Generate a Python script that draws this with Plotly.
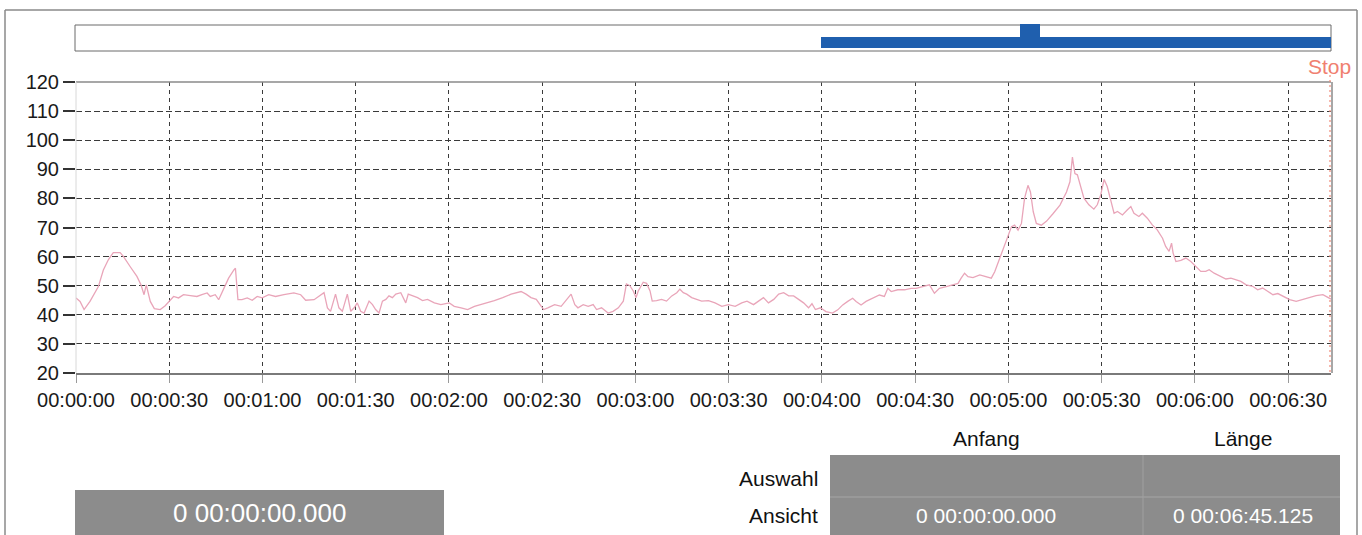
import plotly.graph_objects as go

# ---- recorded series (seconds from start, value) ----
seconds = [
    0, 1.3, 2.6, 4.5, 7.2, 8.8, 10.4, 12.0, 14.2, 15.3, 17.4, 19.6, 20.9, 21.9, 22.6, 23.9,
    25.2, 27.1, 28.7, 30.3, 31.4, 33.0, 34.6, 36.8, 38.9, 40.5, 42.2, 43.2, 44.8, 45.9, 47.5,
    49.1, 50.8, 51.3, 52.1, 53.4, 55.1, 56.7, 58.3, 59.9, 62.0, 64.2, 66.9, 70.1, 72.3, 73.9,
    76.6, 78.2,
    79.8, 80.9, 81.9, 83.5, 84.6, 85.7, 87.3, 88.4, 89.5, 90.5, 91.6, 92.7, 94.3, 95.4, 96.4,
    97.5, 98.6, 99.7, 100.7, 101.8, 102.9, 104.5, 105.6, 106.1, 106.9, 108.3, 109.9, 111.5,
    113.1, 115.3, 117.4, 120.1, 121.7, 123.9, 126.0, 128.2, 130.3, 132.5, 134.6, 137.3, 140.0,
    143.2, 144.8, 146.4, 148.1, 149.7, 150.5, 151.8, 154.0, 156.1, 158.3, 159.3,
    160.5, 161.5, 163.2, 164.8, 166.4, 167.5, 169.1, 171.2, 172.8, 174.5, 176.1, 177.1, 178.2,
    179.3, 180.2, 180.9, 182.5, 183.6, 184.7, 185.4, 186.8, 188.4, 190.0, 191.7, 193.3, 194.3,
    195.4, 196.5, 198.1, 199.7, 201.3, 203.5, 205.6, 207.8, 209.9, 212.1, 214.2, 215.9, 218.0,
    219.6, 221.2, 222.8, 224.5, 226.1, 227.7, 229.3, 230.9, 232.5, 234.1, 235.7, 236.8, 237.9,
    239.5,
    241.3, 243.4, 245.1, 246.7, 248.3, 249.9, 251.0, 252.6, 254.2, 256.3, 258.5, 260.1, 261.2,
    262.3, 264.4, 266.6, 268.7, 270.3, 272.5, 274.6, 276.2, 277.8, 280.0, 282.2, 283.8, 284.8,
    285.9, 287.0, 288.6, 290.8, 292.9, 294.5, 295.6, 297.2, 298.8, 299.9, 301.0, 302.0, 303.1,
    304.2, 305.2, 306.3, 307.1, 308.0, 309.0, 310.6, 312.3, 314.4, 316.6, 318.7, 319.8, 320.6,
    321.4,
    322.2, 323.2, 324.3, 325.9, 327.5, 328.6, 329.7, 330.8, 331.8, 332.9, 334.0, 335.1, 336.7,
    338.3, 339.4, 340.4, 342.0, 343.1, 344.7, 346.3, 347.9, 349.6, 350.6, 351.7, 352.5, 353.0,
    353.9, 355.5, 357.1, 358.7, 360.3, 361.9, 363.5, 364.6, 366.2, 368.4, 370.0, 371.6, 373.2,
    374.8, 376.5, 378.6, 380.2, 381.8, 383.4, 385.1, 386.7, 388.3, 390.5, 392.6, 394.7, 396.9,
    399.0, 401.2, 402.8, 403.8,
]
values = [
    45.8, 44.6, 41.8, 44.6, 49.7, 55.4, 58.9, 61.4, 61.4, 60.0, 56.6, 53.2, 50.3, 46.9, 50.3, 44.6,
    42.1, 41.8, 43.1, 45.2, 46.3, 45.8, 46.9, 46.6, 46.3, 46.9, 47.5, 46.3, 46.9, 45.2, 49.2,
    52.6, 55.4, 56.0, 45.2, 45.2, 45.8, 45.0, 46.3, 45.8, 46.9, 46.3, 46.9, 47.5, 46.9, 45.0,
    45.2, 46.3,
    47.6, 42.4, 41.2, 47.1, 42.4, 41.2, 47.1, 41.2, 42.4, 44.1, 41.2, 40.6, 44.7, 43.5, 41.8,
    40.6, 44.7, 45.3, 46.5, 45.9, 47.1, 47.6, 45.3, 44.1, 47.1, 46.5, 45.9, 44.9,
    45.3, 44.1, 43.5, 44.1, 42.9, 42.4, 41.8, 42.9, 43.5, 44.1, 44.9, 45.9, 47.1,
    48.0, 47.1, 45.9, 45.3, 42.9, 41.8, 42.4, 43.5, 42.9, 45.9, 47.1,
    43.5, 42.4, 43.5, 42.9, 43.5, 41.8, 42.4, 40.6, 41.2, 42.4, 44.7, 50.6, 50.0,
    48.2, 45.9, 48.2, 51.2, 50.8, 48.2, 44.7, 44.9, 45.3, 44.7, 46.5, 47.6, 48.8,
    47.6, 47.1, 45.9, 45.3, 44.7, 44.9, 44.1, 42.9, 43.5, 42.9, 44.1, 44.7, 43.5,
    44.7, 45.9, 44.1, 45.3, 47.1, 47.6, 46.5, 46.5, 45.3, 44.1, 42.4, 43.8, 41.8,
    42.4,
    41.1, 40.6, 41.7, 43.4, 44.6, 45.7, 44.6, 43.4, 44.6, 45.7, 46.8, 46.3, 49.1,
    48.0, 48.6, 48.6, 49.1, 49.1, 49.7, 50.3, 47.4, 49.1, 49.7, 50.3, 50.8, 52.6,
    54.3, 53.1, 52.8, 53.7, 53.1, 52.6, 54.8, 59.4, 64.0, 67.4, 70.3, 70.8, 69.1,
    71.4, 80.0, 84.5, 82.2, 75.4, 71.4, 70.8, 72.2, 74.8, 77.7, 82.2, 85.7, 94.2,
    88.5,
    88.1, 84.1, 80.1, 77.8, 76.3, 77.8, 81.2, 86.5, 84.1, 79.5, 74.9, 75.5, 74.3,
    76.1, 77.2, 74.9, 73.8, 74.9, 73.2, 70.9, 69.2, 66.3, 63.5, 61.8, 64.6, 61.2,
    58.3, 58.7, 59.5, 58.3, 56.6, 54.9, 54.9, 55.5, 54.3, 53.2, 52.3, 52.6, 52.1,
    51.5, 50.3, 49.8, 48.6, 49.2, 48.1, 46.9, 47.3, 46.3, 45.2, 44.6, 45.2, 45.8,
    46.6, 46.9, 45.8, 45.4,
]

x_tick_vals = [0, 30, 60, 90, 120, 150, 180, 210, 240, 270, 300, 330, 360, 390]
x_tick_text = ["00:00:00", "00:00:30", "00:01:00", "00:01:30", "00:02:00", "00:02:30",
               "00:03:00", "00:03:30", "00:04:00", "00:04:30", "00:05:00", "00:05:30",
               "00:06:00", "00:06:30"]
y_tick_vals = [20, 30, 40, 50, 60, 70, 80, 90, 100, 110, 120]

view_end = 403.8
view_start_text = "0 00:00:00.000"
view_length_text = "0 00:06:45.125"
cursor_text = "0 00:00:00.000"

# ---- canvas geometry (pixels) ----
W, H = 1362, 535
L, R, T, B = 76, 1331, 82, 373


def px(x):
    return (x - L) / (R - L)


def py(y):
    return (B - y) / (B - T)


FONT = "Liberation Sans, Arial, sans-serif"
GRAY_BOX = "#8c8c8c"

fig = go.Figure()
fig.add_trace(go.Scatter(
    x=seconds, y=values, mode="lines",
    line=dict(color="rgb(233,165,185)", width=1.3),
    hoverinfo="skip", showlegend=False,
))

shapes = []


def line(x0, y0, x1, y1, color, width=1, dash=None, layer="above"):
    d = dict(type="line", xref="paper", yref="paper",
             x0=px(x0), y0=py(y0), x1=px(x1), y1=py(y1),
             line=dict(color=color, width=width), layer=layer)
    if dash:
        d["line"]["dash"] = dash
    shapes.append(d)


def rect(x0, y0, x1, y1, fill, outline=None, width=1):
    shapes.append(dict(type="rect", xref="paper", yref="paper",
                       x0=px(x0), y0=py(y0), x1=px(x1), y1=py(y1),
                       fillcolor=fill,
                       line=dict(color=outline or fill, width=width if outline else 0),
                       layer="above"))


# outer window frame
line(5, 10, 1357, 10, "#8a8a8a", 1.5)
line(5, 10, 5, 540, "#8a8a8a", 1.5)
line(1357, 10, 1357, 540, "#8a8a8a", 1.5)

# overview bar with current view
rect(75, 25, 1331, 51, "white", "#6a6a6a", 1)
rect(821, 37, 1331, 48, "#1f5fae")
rect(1020, 24, 1040, 38, "#1f5fae")

# plot frame
line(L, T, R, T, "#8a8a8a", 1.5)
line(R + 1, T, R + 1, B, "#8a8a8a", 1.5)
line(L, T, L, B, "#d8d8d8", 1)
# stop marker
line(R - 1, 70, R - 1, B, "#f08a78", 1.2, dash="2px,3px")

# readout boxes
rect(75, 490, 444, 540, GRAY_BOX)
rect(830, 455, 1340, 540, GRAY_BOX)
line(830, 497, 1340, 497, "#a6a6a6", 1)
line(1143, 455, 1143, 540, "#a0a0a0", 1)

annotations = []


def text(x, y, s, size, color="#111111", anchor="center"):
    annotations.append(dict(xref="paper", yref="paper", x=px(x), y=py(y), text=s,
                            showarrow=False, xanchor=anchor, yanchor="middle",
                            font=dict(family=FONT, size=size, color=color)))


text(1329, 66, "Stop", 21, "#f08070")
text(986, 438, "Anfang", 21)
text(1243, 438, "Länge", 21)
text(820, 478, "Auswahl", 21, anchor="right")
text(820, 515, "Ansicht", 21, anchor="right")
text(986, 515, view_start_text, 21, "white")
text(1243, 515, view_length_text, 21, "white")
text(260, 513, cursor_text, 26, "white")

fig.update_layout(
    width=W, height=H,
    margin=dict(l=L, r=W - R, t=T, b=H - B, pad=0),
    paper_bgcolor="white", plot_bgcolor="white",
    shapes=shapes, annotations=annotations,
    font=dict(family=FONT, size=20, color="#1a1a1a"),
    xaxis=dict(
        range=[0, view_end], tickmode="array", tickvals=x_tick_vals, ticktext=x_tick_text,
        showgrid=True, gridcolor="#3a3a3a", gridwidth=1, griddash="4px,4px",
        showline=True, linecolor="#7a7a7a", linewidth=1.5,
        ticks="outside", ticklen=8, tickcolor="#9a9a9a", tickwidth=1,
        zeroline=False, tickfont=dict(size=20, color="#1a1a1a"),
    ),
    yaxis=dict(
        range=[20, 120], tickmode="array", tickvals=y_tick_vals,
        showgrid=True, gridcolor="#3a3a3a", gridwidth=1, griddash="6px,3px",
        showline=False, ticks="outside", ticklen=12, tickcolor="#333333", tickwidth=1.5,
        zeroline=False, tickfont=dict(size=20, color="#1a1a1a"),
    ),
)

fig.write_html("out.html")
